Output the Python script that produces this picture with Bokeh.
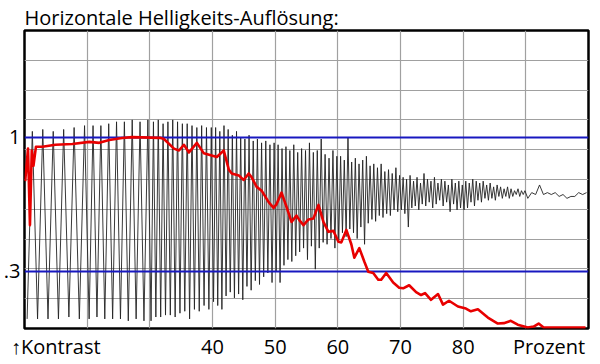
from bokeh.plotting import figure
from bokeh.models import Range1d, FixedTicker, LinearAxis
from bokeh.embed import file_html
from bokeh.resources import INLINE

# ---------------- data ----------------
title_text = "Horizontale Helligkeits-Auflösung:"
x_tick_values = [40, 50, 60, 70, 80]
x_tick_texts = ["40", "50", "60", "70", "80"]
x_end_texts = ["↑Kontrast", "Prozent"]
x_grid_values = [20, 30, 40, 50, 60, 70, 80, 90]
y_label_values = [1.0, 0.3]
y_label_texts = ["1", ".3"]
blue_levels = [1.0, 0.3]

# black test signal: per grid division (10-20 %, 20-30 %, ...) the top and
# bottom contrast value of every visible oscillation cycle
wave_tops = [
    [1.03, 1.04, 1.03, 1.04, 1.05, 1.06],
    [1.06, 1.06, 1.07, 1.08, 1.08, 1.09, 1.08, 1.09],
    [1.08, 1.09, 1.07, 1.08, 1.09, 1.08, 1.07, 1.07, 1.06, 1.05, 1.06, 1.05, 1.05],
    [1.05, 1.03, 1.06, 1.04, 1.01, 1.03, 1.00, 0.99, 1.01, 0.98, 0.99, 0.97, 0.98, 0.96, 0.97],
    [0.96, 0.94, 0.95, 0.93, 0.96, 0.92, 0.94, 0.93, 0.97, 0.92, 0.93, 0.99, 0.91, 0.89, 0.93, 0.90],
    [0.90, 0.88, 1.00, 0.87, 0.89, 0.86, 0.88, 0.90, 0.85, 0.86, 0.84, 0.86, 0.82, 0.83, 0.81, 0.84, 0.80],
    [0.79, 0.78, 0.80, 0.77, 0.79, 0.76, 0.81, 0.78, 0.77, 0.79, 0.76, 0.78, 0.77, 0.75, 0.78, 0.76, 0.77, 0.75],
    [0.77, 0.76, 0.78, 0.77, 0.76, 0.77, 0.75, 0.76, 0.74, 0.75, 0.74, 0.73, 0.74, 0.73, 0.72, 0.73, 0.72, 0.72],
    [0.71, 0.75, 0.71, 0.71, 0.70, 0.69, 0.71, 0.71],
]
wave_bottoms = [
    [0.05, 0.05, 0.05, 0.05, 0.06, 0.05],
    [0.05, 0.06, 0.05, 0.05, 0.05, 0.04, 0.05, 0.04],
    [0.04, 0.06, 0.06, 0.07, 0.07, 0.06, 0.08, 0.09, 0.05, 0.10, 0.09, 0.12, 0.10],
    [0.14, 0.12, 0.10, 0.17, 0.19, 0.16, 0.18, 0.15, 0.22, 0.20, 0.25, 0.23, 0.27, 0.29, 0.24],
    [0.30, 0.24, 0.33, 0.36, 0.35, 0.38, 0.40, 0.42, 0.36, 0.43, 0.31, 0.42, 0.45, 0.44, 0.47, 0.42],
    [0.46, 0.50, 0.48, 0.52, 0.50, 0.47, 0.53, 0.44, 0.55, 0.57, 0.56, 0.59, 0.58, 0.60, 0.59, 0.62, 0.61],
    [0.62, 0.60, 0.53, 0.63, 0.64, 0.62, 0.65, 0.64, 0.66, 0.63, 0.65, 0.67, 0.64, 0.66, 0.61, 0.65, 0.62, 0.63],
    [0.62, 0.63, 0.66, 0.64, 0.67, 0.66, 0.68, 0.67, 0.68, 0.67, 0.69, 0.68, 0.69, 0.68, 0.69, 0.70, 0.69, 0.70],
    [0.68, 0.70, 0.70, 0.70, 0.69, 0.68, 0.69, 0.70],
]
division_starts = [10, 20, 30, 40, 50, 60, 70, 80, 90]

# red contrast curve (x in Prozent, y in contrast)
red_x = [10.11, 10.56, 10.87, 11.16, 11.43, 11.83, 12.86, 14.93, 17.63, 20.34,
         21.93, 23.52, 25.58, 27.17, 31.63, 32.26, 33.85, 34.65, 35.44, 36.24,
         37.51, 38.62, 39.58, 40.69, 41.80, 42.60, 43.07, 44.19, 44.98, 45.78,
         46.25, 47.05, 47.84, 48.96, 49.75, 50.23, 51.02, 51.82, 52.61, 53.41,
         53.89, 54.52, 55.32, 56.11, 56.91, 57.70, 58.50, 59.29, 60.09, 60.56,
         61.36, 62.15, 62.63, 63.43, 64.22, 64.86, 65.65, 66.45, 66.92, 67.72,
         68.83, 69.79, 70.42, 71.38, 72.49, 73.28, 73.92, 74.87, 75.99, 76.78,
         77.74, 79.17, 80.44, 81.23, 82.35, 83.94, 85.53, 86.48, 87.60, 88.71,
         90.30, 91.25, 92.04, 92.84, 95.54, 99.52]
red_y = [0.77, 0.94, 0.54, 0.93, 0.85, 0.95, 0.95, 0.96, 0.964, 0.975,
         0.97, 0.985, 0.995, 1.0, 0.996, 0.99, 0.94, 0.93, 0.96, 0.92,
         0.97, 0.915, 0.906, 0.896, 0.93, 0.83, 0.81, 0.80, 0.776, 0.81,
         0.79, 0.74, 0.72, 0.66, 0.63, 0.65, 0.71, 0.635, 0.557, 0.59,
         0.565, 0.54, 0.57, 0.575, 0.646, 0.557, 0.505, 0.51, 0.453, 0.45,
         0.515, 0.44, 0.37, 0.42, 0.35, 0.297, 0.29, 0.255, 0.255, 0.29,
         0.24, 0.213, 0.21, 0.226, 0.19, 0.175, 0.185, 0.15, 0.18, 0.125,
         0.145, 0.115, 0.104, 0.09, 0.10, 0.057, 0.026, 0.028, 0.04, 0.02,
         0.005, 0.01, 0.026, 0.005, 0.005, 0.005]

# ---------------- build the black trace from the cycle values ----------------
wave_x, wave_y = [], []
for start, tops, bots in zip(division_starts, wave_tops, wave_bottoms):
    n = len(tops)
    for k in range(n):
        wave_x.append(start + 10.0 * (k + 0.25) / n)
        wave_y.append(bots[k])
        wave_x.append(start + 10.0 * (k + 0.75) / n)
        wave_y.append(tops[k])

FONT = "Open Sans"
Y_TOP = 1.557
X_END_POS = [15.0, 93.7]   # where the two end captions are centred

p = figure(width=598, height=362, output_backend="svg", toolbar_location=None,
           x_range=Range1d(10, 100), y_range=Range1d(0, Y_TOP),
           x_axis_location=None, y_axis_location=None,
           min_border_left=22, min_border_right=10, min_border_top=30, min_border_bottom=33)
p.background_fill_color = "white"
p.border_fill_color = "white"
p.outline_line_color = "black"
p.outline_line_width = 2.5

p.title.text = title_text
p.title.text_font = FONT
p.title.text_font_size = "20px"
p.title.text_font_style = "normal"
p.title.text_color = "black"
p.title.standoff = 0
p.title.offset = 0

xaxis = LinearAxis(ticker=FixedTicker(ticks=X_END_POS[:1] + x_tick_values + X_END_POS[1:]))
overrides = {X_END_POS[0]: x_end_texts[0], X_END_POS[1]: x_end_texts[1]}
overrides.update({v: t for v, t in zip(x_tick_values, x_tick_texts)})
xaxis.major_label_overrides = overrides
yaxis = LinearAxis(ticker=FixedTicker(ticks=y_label_values))
yaxis.major_label_overrides = {v: t for v, t in zip(y_label_values, y_label_texts)}
for ax in (xaxis, yaxis):
    ax.axis_line_color = None
    ax.major_tick_line_color = None
    ax.minor_tick_line_color = None
    ax.major_tick_out = 0
    ax.major_tick_in = 0
    ax.major_label_standoff = 4
    ax.major_label_text_font = FONT
    ax.major_label_text_font_size = "20px"
    ax.major_label_text_color = "black"
p.add_layout(xaxis, "below")
p.add_layout(yaxis, "left")

p.xgrid.ticker = FixedTicker(ticks=x_grid_values)
p.ygrid.ticker = FixedTicker(ticks=[Y_TOP * i / 10 for i in range(1, 10)])
for g in (p.xgrid, p.ygrid):
    g.grid_line_color = "#a0a0a0"
    g.grid_line_width = 1.2

p.line(wave_x, wave_y, line_color="#222222", line_width=0.9)
p.hspan(y=blue_levels, line_color="#1818c0", line_width=1.8)
p.line(red_x, red_y, line_color="#e80000", line_width=2.6, line_join="round")

open("out.html", "w").write(file_html(p, INLINE))
